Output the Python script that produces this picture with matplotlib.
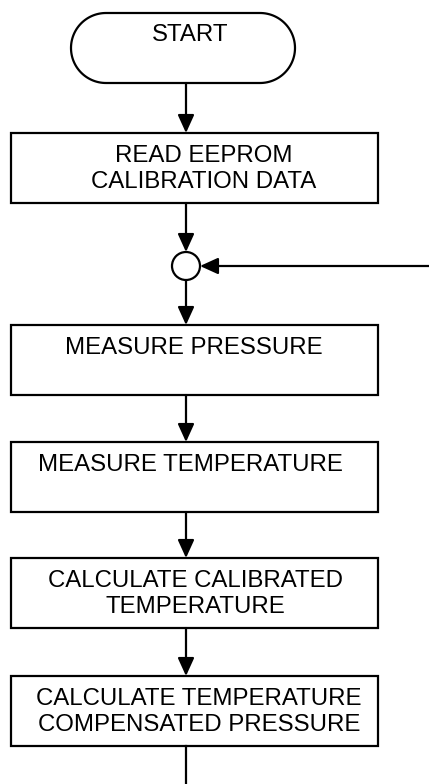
import numpy as np
import matplotlib
matplotlib.use("Agg")
import matplotlib.pyplot as plt
from matplotlib.patches import Rectangle, Polygon, Circle

# flowchart content
start_label = "START"
step_labels = [
    "READ EEPROM\nCALIBRATION DATA",
    "MEASURE PRESSURE",
    "MEASURE TEMPERATURE",
    "CALCULATE CALIBRATED\nTEMPERATURE",
    "CALCULATE TEMPERATURE\nCOMPENSATED PRESSURE",
]

# layout (pixels, y grows downward)
box_left, box_right = 11, 378
box_tops = [133, 325, 442, 558, 676]
box_h = 70
text_x = [204, 194, 190, 195, 199]
flow_x = 186
junction_y, junction_r = 266, 14
start_left, start_right, start_top, start_h = 71, 295, 13, 70

plt.rcParams['font.family'] = ['Liberation Sans', 'DejaVu Sans']

fig = plt.figure(figsize=(4.29, 7.84), dpi=100)
ax = fig.add_axes([0, 0, 1, 1])
ax.set_xlim(0, 429)
ax.set_ylim(784, 0)
ax.axis('off')

lw = 1.6
fs = 17.3


def arrow(x0, y0, x1, y1):
    ax.annotate("", xy=(x1, y1), xytext=(x0, y0),
                arrowprops=dict(arrowstyle="-|>,head_length=1.1,head_width=0.5",
                                color="black", lw=lw, shrinkA=0, shrinkB=0,
                                mutation_scale=10))


# start terminator (stadium shape)
r = start_h / 2
cy = start_top + r
t = np.linspace(-np.pi / 2, np.pi / 2, 60)
right_cap = np.column_stack([start_right - r + r * np.cos(t), cy + r * np.sin(t)])
left_cap = np.column_stack([start_left + r - r * np.cos(t), cy - r * np.sin(t)])
ax.add_patch(Polygon(np.vstack([right_cap, left_cap]), closed=True,
                     fc="white", ec="black", lw=lw))
ax.text(190, 35, start_label, ha="center", va="center", fontsize=fs)

arrow(flow_x, start_top + start_h, flow_x, box_tops[0])

for i, (lab, top) in enumerate(zip(step_labels, box_tops)):
    ax.add_patch(Rectangle((box_left, top), box_right - box_left, box_h,
                           fc="white", ec="black", lw=lw))
    lines = lab.split("\n")
    for j, line in enumerate(lines):
        ax.text(text_x[i], top + 23 + 26 * j, line, ha="center",
                va="center", fontsize=fs)

# connectors
arrow(flow_x, box_tops[0] + box_h, flow_x, junction_y - junction_r)
ax.add_patch(Circle((flow_x, junction_y), junction_r, fc="white",
                    ec="black", lw=lw))
arrow(429, junction_y, flow_x + junction_r, junction_y)
arrow(flow_x, junction_y + junction_r, flow_x, box_tops[1])
for k in range(1, len(box_tops) - 1):
    arrow(flow_x, box_tops[k] + box_h, flow_x, box_tops[k + 1])
ax.plot([flow_x, flow_x], [box_tops[-1] + box_h, 784], color="black", lw=lw)

fig.savefig("out.png", dpi=100)
